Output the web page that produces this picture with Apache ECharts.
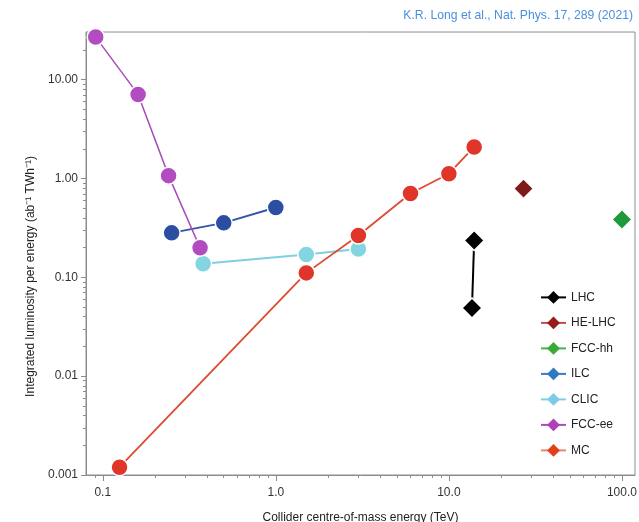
<!DOCTYPE html>
<html>
<head>
<meta charset="utf-8">
<script src="https://cdn.jsdelivr.net/npm/echarts@6/dist/echarts.min.js"></script>
<style>
  html, body { margin: 0; padding: 0; background: #fff; }
  #chart { width: 639px; height: 522px; }
</style>
</head>
<body>
<div id="chart"></div>
<script>
// energies in TeV, luminosity per energy in ab^-1 TWh^-1
var lhcE = [14, 13.6];
var lhcL = [0.236, 0.049];
var heLhcE = [27];
var heLhcL = [0.79];
var fccHhE = [100];
var fccHhL = [0.385];
var ilcE = [0.25, 0.5, 1.0];
var ilcL = [0.282, 0.356, 0.51];
var clicE = [0.38, 1.5, 3.0];
var clicL = [0.137, 0.170, 0.194];
var fccEeE = [0.091, 0.16, 0.24, 0.365];
var fccEeL = [27.0, 7.1, 1.07, 0.199];
var mcE = [0.125, 1.5, 3.0, 6.0, 10.0, 14.0];
var mcL = [0.0012, 0.111, 0.265, 0.705, 1.12, 2.09];

// tick labels
var xTickValues = [0.1, 1, 10, 100];
var xTickLabels = ['0.1', '1.0', '10.0', '100.0'];
var xMinorTicks = [0.09, 0.2, 0.3, 0.4, 0.5, 0.6, 0.7, 0.8, 0.9,
    2, 3, 4, 5, 6, 7, 8, 9, 20, 30, 40, 50, 60, 70, 80, 90];
var yTickValues = [0.001, 0.01, 0.1, 1, 10];
var yTickLabels = ['0.001', '0.01', '0.10', '1.00', '10.00'];
var yMinorTicks = [0.002, 0.003, 0.004, 0.005, 0.006, 0.007, 0.008, 0.009,
    0.02, 0.03, 0.04, 0.05, 0.06, 0.07, 0.08, 0.09,
    0.2, 0.3, 0.4, 0.5, 0.6, 0.7, 0.8, 0.9,
    2, 3, 4, 5, 6, 7, 8, 9, 20];

var X_MIN = 0.080, X_MAX = 119, Y_MIN = 0.001, Y_MAX = 30.4;
var FONT = '"Liberation Sans", Arial, sans-serif';
var AXIS_COLOR = '#8c8c8c';

function pairs(xs, ys, sym) {
    var out = [];
    for (var i = 0; i < xs.length; i++) {
        out.push({ value: [xs[i], ys[i]], symbol: sym });
    }
    return out;
}

function lookup(vals, labels, v) {
    for (var i = 0; i < vals.length; i++) {
        if (Math.abs(Math.log10(vals[i]) - Math.log10(v)) < 1e-6) return labels[i];
    }
    return '';
}

// 系列定义
function makeSeries(name, xs, ys, sym, color, lineColor, size, lineWidth) {
    return {
        name: name,
        type: 'line',
        symbol: 'diamond',
        symbolSize: size,
        data: pairs(xs, ys, sym),
        itemStyle: { color: color, borderColor: '#fff', borderWidth: 1.5 },
        lineStyle: { color: lineColor, width: lineWidth },
        emphasis: { disabled: true },
        animation: false
    };
}

var myChart = echarts.init(document.getElementById('chart'));
var option = {
    backgroundColor: '#fff',
    title: {
        text: 'K.R. Long et al., Nat. Phys. 17, 289 (2021)',
        right: 1,
        top: 5,
        textStyle: { color: '#4a8fde', fontSize: 12.2, fontWeight: 'normal', fontFamily: FONT }
    },
    grid: {
        left: 86, right: 4, top: 32, bottom: 47,
        containLabel: false,
        outerBoundsMode: 'none',
        show: true, borderColor: AXIS_COLOR, borderWidth: 1, backgroundColor: 'transparent'
    },
    legend: {
        orient: 'vertical',
        left: 535,
        top: 286,
        itemWidth: 25,
        itemHeight: 16,
        itemGap: 12.7,
        itemStyle: { borderWidth: 0 },
        lineStyle: { width: 2 },
        textStyle: { fontSize: 12, color: '#222', fontFamily: FONT },
        data: [
            { name: 'LHC' },
            { name: 'HE-LHC', itemStyle: { color: '#9a1b1b' }, lineStyle: { color: '#c24a55' } },
            { name: 'FCC-hh', itemStyle: { color: '#3aaa35' }, lineStyle: { color: '#4cb04a' } },
            { name: 'ILC', itemStyle: { color: '#2f78c4' }, lineStyle: { color: '#3d7cc2' } },
            { name: 'CLIC', itemStyle: { color: '#7ecbe8' } },
            { name: 'FCC-ee', itemStyle: { color: '#b03fb8' } },
            { name: 'MC', itemStyle: { color: '#e0401a' }, lineStyle: { color: '#e8866c' } }
        ]
    },
    xAxis: [{
        type: 'log',
        min: X_MIN,
        max: X_MAX,
        name: 'Collider centre-of-mass energy (TeV)',
        nameLocation: 'middle',
        nameGap: 37,
        nameTextStyle: { fontSize: 12, color: '#222', fontFamily: FONT },
        axisLine: { show: true, lineStyle: { color: AXIS_COLOR } },
        axisTick: { show: true, length: 6, customValues: xTickValues, lineStyle: { color: AXIS_COLOR } },
        axisLabel: {
            customValues: xTickValues, margin: 12, fontSize: 12, color: '#333', fontFamily: FONT,
            formatter: function (v) { return lookup(xTickValues, xTickLabels, v); }
        },
        splitLine: { show: false }
    }, {
        type: 'log',
        min: X_MIN,
        max: X_MAX,
        position: 'bottom',
        axisLine: { show: false },
        axisTick: { show: true, length: 3, customValues: xMinorTicks, lineStyle: { color: AXIS_COLOR } },
        axisLabel: { show: false },
        splitLine: { show: false }
    }],
    yAxis: [{
        type: 'log',
        min: Y_MIN,
        max: Y_MAX,
        name: 'Integrated luminosity per energy (ab\u207B\u00B9 TWh\u207B\u00B9)',
        nameLocation: 'middle',
        nameGap: 49,
        nameTextStyle: { fontSize: 12, color: '#222', fontFamily: FONT, padding: [0, 46, 0, 0] },
        axisLine: { show: true, lineStyle: { color: AXIS_COLOR } },
        axisTick: { show: true, length: 5, customValues: yTickValues, lineStyle: { color: AXIS_COLOR } },
        axisLabel: {
            customValues: yTickValues, margin: 8, fontSize: 12, color: '#333', fontFamily: FONT,
            formatter: function (v) { return lookup(yTickValues, yTickLabels, v); }
        },
        splitLine: { show: false }
    }, {
        type: 'log',
        min: Y_MIN,
        max: Y_MAX,
        position: 'left',
        axisLine: { show: false },
        axisTick: { show: true, length: 3, customValues: yMinorTicks, lineStyle: { color: AXIS_COLOR } },
        axisLabel: { show: false },
        splitLine: { show: false }
    }],
    series: [
        makeSeries('LHC', lhcE, lhcL, 'diamond', '#000', '#000', 20, 2),
        makeSeries('HE-LHC', heLhcE, heLhcL, 'diamond', '#7e1a17', '#7e1a17', 20, 2),
        makeSeries('FCC-hh', fccHhE, fccHhL, 'diamond', '#20993a', '#20993a', 20, 2),
        makeSeries('ILC', ilcE, ilcL, 'circle', '#2b4ea3', '#3356a8', 17, 2),
        makeSeries('CLIC', clicE, clicL, 'circle', '#83d5e2', '#7fd0e0', 17, 2),
        makeSeries('FCC-ee', fccEeE, fccEeL, 'circle', '#b24cc0', '#a94bbb', 17, 1.5),
        makeSeries('MC', mcE, mcL, 'circle', '#e0362a', '#e04a30', 17, 1.8)
    ]
};
myChart.setOption(option);
</script>
</body>
</html>
